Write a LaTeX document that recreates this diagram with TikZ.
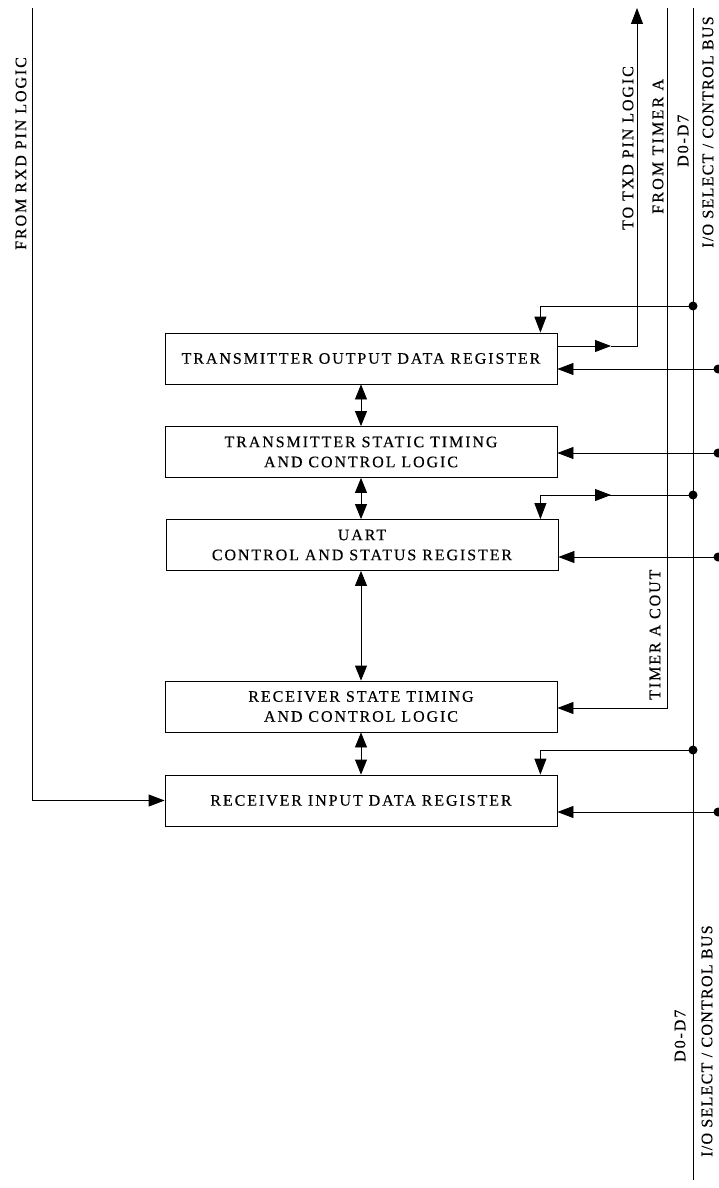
\documentclass[tikz,border=0pt]{standalone}
\usepackage{fontspec}
\setmainfont{Liberation Serif}
\newfontfamily\lblfont[LetterSpace=12,FakeBold=0.3]{Liberation Serif}
\newfontfamily\lblnarrow[LetterSpace=8,FakeBold=0.3]{Liberation Serif}
\newfontfamily\lblwide[LetterSpace=14,FakeBold=0.3]{Liberation Serif}
\usetikzlibrary{arrows.meta}
\begin{document}
\begin{tikzpicture}[x=1pt,y=-1pt,
  every node/.style={font=\lblfont\fontsize{16}{20}\selectfont},
  box/.style={draw, line width=0.8pt, minimum width=392pt, minimum height=51pt, inner sep=0pt, align=center},
  ln/.style={line width=0.8pt},
  tip/.style={-{Triangle[length=16pt,width=12pt]}},
  both/.style={{Triangle[length=15pt,width=12pt]}-{Triangle[length=15pt,width=12pt]}},
  dot/.style={circle, fill, inner sep=0pt, minimum size=9pt},
  lbl/.style={rotate=90, anchor=west, inner sep=0pt}
]
\useasboundingbox (0,0) rectangle (718,1188);
% boxes
\node[box] (tod) at (361,358.5) {TRANSMITTER OUTPUT DATA REGISTER};
\node[box] (tst) at (361,452) {TRANSMITTER STATIC TIMING\\AND CONTROL LOGIC};
\node[box] (ucs) at (362,545) {UART\\CONTROL AND STATUS REGISTER};
\node[box] (rst) at (361,706.5) {RECEIVER STATE TIMING\\AND CONTROL LOGIC};
\node[box] (rid) at (361,800.5) {RECEIVER INPUT DATA REGISTER};
% vertical links
\draw[ln,both] (tod.south) -- (tst.north);
\draw[ln,both] (tst.south) -- (ucs.north -| tst.south);
\draw[ln,both] (ucs.south -| rst.north) -- (rst.north);
\draw[ln,both] (rst.south) -- (rid.north);
% RXD
\coordinate (rxdtop) at (32,8);
\draw[ln,tip] (rxdtop) |- (rid.west);
% TXD
\coordinate (txdtop) at (637,8);
\coordinate (txdmid) at (611,346);
\draw[ln,tip] (tod.east |- txdmid) -- (txdmid);
\draw[ln,tip] (txdmid) -| (txdtop);
% timer
\coordinate (tmrtop) at (667,8);
\coordinate (tmrc) at (667,708);
\draw[ln,tip] (tmrtop) -- (tmrc) -- (rst.east |- tmrc);
% bus
\coordinate (busT) at (693,8);
\coordinate (busB) at (693,1180);
\draw[ln] (busT) -- (busB);
\node[dot] (d1) at (693,306) {};
\node[dot] (d2) at (693,495) {};
\node[dot] (d3) at (693,750) {};
\coordinate (umid) at (611,495);
\draw[ln,tip] (d1.center) -| ([xshift=-17pt]tod.north east);
\draw[ln,tip] (d2.center) -| ([xshift=-18pt]ucs.north east);
\draw[ln,tip] ([xshift=-18pt]ucs.north east |- d2) -- (umid);
\draw[ln,tip] (d3.center) -| ([xshift=-17pt]rid.north east);
% select lines
\node[dot] (e1) at (718,369) {};
\node[dot] (e2) at (718,453) {};
\node[dot] (e3) at (718,557) {};
\node[dot] (e4) at (718,812) {};
\draw[ln,tip] (e1.center) -- (tod.east |- e1);
\draw[ln,tip] (e2.center) -- (tst.east |- e2);
\draw[ln,tip] (e3.center) -- (ucs.east |- e3);
\draw[ln,tip] (e4.center) -- (rid.east |- e4);
% labels
\node[lbl] (l1) at (21,250) {FROM RXD PIN LOGIC};
\node[lbl] (l2) at (628,230) {TO TXD PIN LOGIC};
\node[lbl, font=\lblwide\fontsize{16}{20}\selectfont] (l3) at (658,214) {FROM TIMER A};
\node[lbl] (l4) at (683,167) {D0-D7};
\node[lbl, font=\lblnarrow\fontsize{16}{20}\selectfont] (l5) at (708,248) {I/O SELECT / CONTROL BUS};
\node[lbl] (l6) at (655,700) {TIMER A COUT};
\node[lbl] (l7) at (680,1062) {D0-D7};
\node[lbl, font=\lblnarrow\fontsize{16}{20}\selectfont] (l8) at (707,1157) {I/O SELECT / CONTROL BUS};
\end{tikzpicture}
\end{document}
